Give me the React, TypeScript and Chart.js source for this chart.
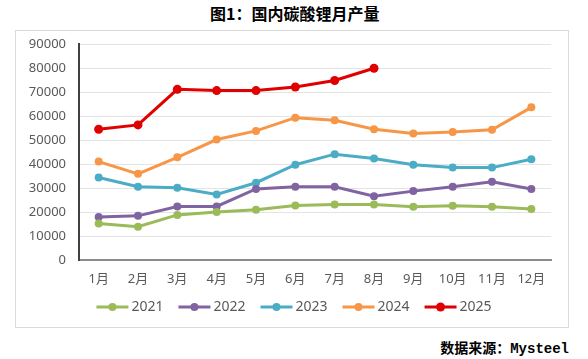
import React, { useEffect, useRef } from "react";
import { Chart, registerables } from "chart.js";

Chart.register(...registerables);

const months = ["1月", "2月", "3月", "4月", "5月", "6月", "7月", "8月", "9月", "10月", "11月", "12月"];
const years = ["2021", "2022", "2023", "2024", "2025"];
const s2021 = [15200, 13900, 18800, 20000, 20900, 22700, 23100, 23100, 22200, 22600, 22200, 21200];
const s2022 = [17900, 18400, 22300, 22300, 29600, 30500, 30500, 26600, 28700, 30500, 32600, 29600];
const s2023 = [34400, 30500, 30100, 27300, 32200, 39700, 44100, 42300, 39700, 38500, 38500, 42000];
const s2024 = [41000, 35900, 42800, 50200, 53800, 59300, 58200, 54500, 52700, 53300, 54300, 63600];
const s2025 = [54500, 56300, 71100, 70600, 70600, 72100, 74800, 79900];
const colors = ["#9BBB59", "#8064A2", "#4BACC6", "#F79646", "#E00000"];
const yMax = 90000;
const yStep = 10000;

const FONT = '"Noto Sans", "Noto Sans CJK SC", sans-serif';

const legendPlugin = {
  id: "lineLegend",
  afterDraw(chart: any) {
    const ctx = chart.ctx;
    const ds = chart.data.datasets;
    ctx.save();
    ctx.font = `14px ${FONT}`;
    ctx.textBaseline = "middle";
    const lineLen = 32;
    const gap = 3;
    const itemGap = 15;
    const widths = ds.map((d: any) => lineLen + gap + ctx.measureText(d.label).width);
    const total = widths.reduce((a: number, b: number) => a + b, 0) + itemGap * (ds.length - 1);
    let x = chart.width / 2 - total / 2 + 2;
    const y = 276;
    ds.forEach((d: any, i: number) => {
      ctx.strokeStyle = d.borderColor;
      ctx.lineWidth = 3;
      ctx.beginPath();
      ctx.moveTo(x, y);
      ctx.lineTo(x + lineLen, y);
      ctx.stroke();
      ctx.fillStyle = d.borderColor;
      ctx.beginPath();
      ctx.arc(x + lineLen / 2, y, i === 4 ? 4.5 : 4, 0, Math.PI * 2);
      ctx.fill();
      ctx.fillStyle = "#595959";
      ctx.textAlign = "left";
      ctx.fillText(d.label, x + lineLen + gap, y);
      x += widths[i] + itemGap;
    });
    ctx.restore();
  },
};

export default function App() {
  const ref = useRef<HTMLCanvasElement | null>(null);
  useEffect(() => {
    if (!ref.current) return;
    const series = [s2021, s2022, s2023, s2024, s2025];
    const chart = new Chart(ref.current, {
      type: "line",
      data: {
        labels: months,
        datasets: series.map((s, i) => ({
          label: years[i],
          data: s,
          borderColor: colors[i],
          backgroundColor: colors[i],
          pointBackgroundColor: colors[i],
          pointBorderWidth: 0,
          pointRadius: i === 4 ? 4.5 : 4,
          borderWidth: 3,
          tension: 0,
          fill: false,
        })),
      },
      options: {
        animation: false,
        responsive: false,
        maintainAspectRatio: false,
        layout: { padding: { left: 0, top: 13, right: 17, bottom: 40 } },
        plugins: { legend: { display: false }, tooltip: { enabled: false }, title: { display: false } },
        scales: {
          x: {
            offset: true,
            grid: { display: false, drawTicks: false },
            border: { color: "#8c8c8c", width: 2 },
            ticks: { color: "#595959", font: { family: FONT, size: 13 }, padding: 11, maxRotation: 0, autoSkip: false },
            afterFit(scale: any) {
              scale.height = 27;
              scale.paddingLeft = 0;
              scale.paddingRight = 0;
            },
          },
          y: {
            min: 0,
            max: yMax,
            grid: { color: "#e3e3e3", lineWidth: 1, drawTicks: false },
            border: { color: "#404040", width: 2 },
            ticks: {
              stepSize: yStep,
              color: "#595959",
              font: { family: FONT, size: 13 },
              padding: 13,
              callback: (v: any) => String(v),
            },
            afterFit(scale: any) {
              scale.width = 63;
              scale.paddingTop = 0;
              scale.paddingBottom = 0;
            },
          },
        },
      },
      plugins: [legendPlugin],
    } as any);
    return () => chart.destroy();
  }, []);

  return (
    <div style={{ position: "absolute", left: 0, top: 0, width: 588, height: 359, background: "#fff", overflow: "hidden" }}>
      <div
        style={{
          position: "absolute",
          left: 210,
          top: 2,
          whiteSpace: "nowrap",
          fontFamily: '"Noto Sans CJK SC", sans-serif',
          fontWeight: 700,
          fontSize: 16,
          lineHeight: "22px",
          color: "#000",
        }}
      >
        图1：国内碳酸锂月产量
      </div>
      <div
        style={{
          position: "absolute",
          left: 15,
          top: 30,
          width: 554,
          height: 298,
          boxSizing: "border-box",
          border: "1px solid #dadada",
        }}
      >
        <canvas ref={ref} width={552} height={296} style={{ position: "absolute", left: 0, top: 0, width: 552, height: 296 }} />
      </div>
      <div
        style={{
          position: "absolute",
          right: 19,
          top: 337,
          fontWeight: 700,
          fontSize: 14,
          lineHeight: "20px",
          color: "#000",
          whiteSpace: "nowrap",
        }}
      >
        <span style={{ fontFamily: '"Noto Sans CJK SC", sans-serif' }}>数据来源：</span>
        <span style={{ fontFamily: '"Liberation Mono", monospace' }}>Mysteel</span>
      </div>
    </div>
  );
}
